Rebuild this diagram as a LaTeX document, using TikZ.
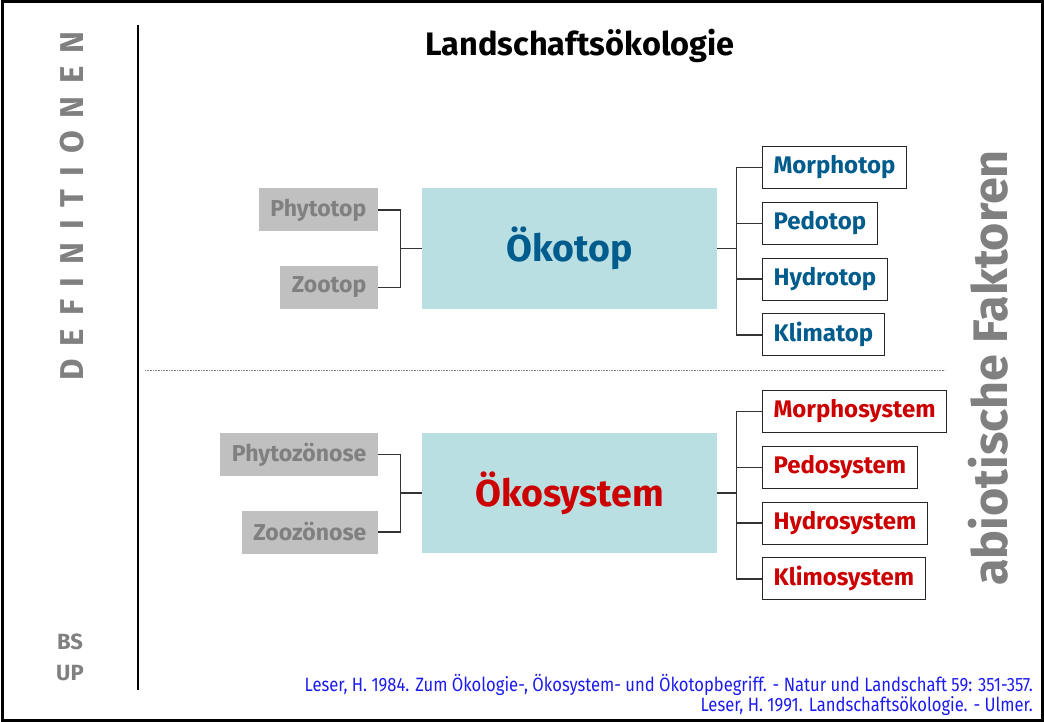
\documentclass[tikz,border=0pt]{standalone}
\usepackage{fontspec}
\setmainfont{Fira Sans}
\newfontfamily\reffont[FakeStretch=0.86]{Fira Sans}
\usepackage{tikz}
\usetikzlibrary{positioning}
\definecolor{inkGray}{HTML}{808080}
\definecolor{boxGray}{HTML}{C0C0C0}
\definecolor{topBg}{HTML}{B9DFE3}
\definecolor{topBlue}{HTML}{005C8C}
\definecolor{sysRed}{HTML}{CC0000}
\definecolor{refBlue}{HTML}{1C1CF0}
\definecolor{wire}{HTML}{333333}

\begin{document}
\begin{tikzpicture}[x=1pt,y=-1pt,
  core/.style={fill=topBg,minimum width=295pt,minimum height=120pt,inner sep=0pt,
               font=\fontsize{37.5}{42}\selectfont\bfseries},
  bio/.style={fill=boxGray,text=inkGray,minimum height=43pt,inner xsep=11.5pt,inner ysep=0pt,
              anchor=east,font=\fontsize{23}{26}\selectfont\bfseries},
  abio/.style={draw=black!85,fill=white,line width=1.1pt,minimum height=42pt,
               inner xsep=11pt,inner ysep=0pt,anchor=west,
               font=\fontsize{24}{27}\selectfont\bfseries},
  conn/.style={draw=wire,line width=1.3pt},
  side/.style={text=inkGray,rotate=90,inner sep=0pt}]
  \useasboundingbox (0,0) rectangle (1044,722);
  \draw[line width=3pt] (2,2) rectangle (1042,720);

  % frame texts
  \node[side,font=\fontsize{33}{36}\selectfont\bfseries\addfontfeature{LetterSpace=39}]
       (defs) at (72,206) {DEFINITIONEN};
  \node[text=inkGray,align=center,inner sep=0pt,font=\fontsize{22}{31}\selectfont\bfseries]
       (bsup) at (70,657) {BS\\UP};
  \coordinate (septop) at (138,25);
  \coordinate (sepbot) at (138,690);
  \draw[line width=1.2pt] (septop) -- (sepbot);
  \node[font=\fontsize{32.5}{36}\selectfont\bfseries] (title) at (580,46) {Landschaftsökologie};
  \node[side,font=\fontsize{48.5}{52}\selectfont\bfseries] (abiot) at (988,368) {abiotische Faktoren};
  \coordinate (dotl) at (145,370);
  \coordinate (dotr) at (945,370);
  \draw[inkGray,line width=0.7pt,dash pattern=on 0.8pt off 0.8pt] (dotl) -- (dotr);

  % Oekotop
  \node[core,text=topBlue] (okotop) at (569.5,248.5) {Ökotop};
  \node[bio] (phyto) at (378,210) {Phytotop};
  \node[bio] (zoo) at (378,287.5) {Zootop};
  \node[abio,text=topBlue] (morpho) at (762,167.5) {Morphotop};
  \node[abio,text=topBlue,below=12.7pt of morpho.south west,anchor=north west] (pedo) {Pedotop};
  \node[abio,text=topBlue,below=12.7pt of pedo.south west,anchor=north west] (hydro) {Hydrotop};
  \node[abio,text=topBlue,below=12.7pt of hydro.south west,anchor=north west] (klima) {Klimatop};

  % Oekosystem
  \node[core,text=sysRed] (okosys) at (569.5,493) {Ökosystem};
  \node[bio] (phytoz) at (378,454.5) {Phytozönose};
  \node[bio] (zooz) at (378,532) {Zoozönose};
  \node[abio,text=sysRed] (morphos) at (762,411.5) {Morphosystem};
  \node[abio,text=sysRed,below=12.7pt of morphos.south west,anchor=north west] (pedos) {Pedosystem};
  \node[abio,text=sysRed,below=12.7pt of pedos.south west,anchor=north west] (hydros) {Hydrosystem};
  \node[abio,text=sysRed,below=12.7pt of hydros.south west,anchor=north west] (klimos) {Klimosystem};

  % connectors
  \coordinate (jl1) at ([xshift=-21pt]okotop.west);
  \coordinate (jr1) at ([xshift=19pt]okotop.east);
  \coordinate (jl2) at ([xshift=-21pt]okosys.west);
  \coordinate (jr2) at ([xshift=19pt]okosys.east);
  \draw[conn] (phyto.east) -| (jl1) |- (zoo.east);
  \draw[conn] (jl1) -- (okotop.west);
  \draw[conn] (okotop.east) -- (jr1);
  \draw[conn] (morpho.west -| jr1) -- (klima.west -| jr1);
  \foreach \n in {morpho,pedo,hydro,klima}
    \draw[conn] (\n.west -| jr1) -- (\n.west);
  \draw[conn] (phytoz.east) -| (jl2) |- (zooz.east);
  \draw[conn] (jl2) -- (okosys.west);
  \draw[conn] (okosys.east) -- (jr2);
  \draw[conn] (morphos.west -| jr2) -- (klimos.west -| jr2);
  \foreach \n in {morphos,pedos,hydros,klimos}
    \draw[conn] (\n.west -| jr2) -- (\n.west);

  % sources
  \node[anchor=south east,align=right,text=refBlue,inner sep=0pt,
        font=\reffont\fontsize{19.3}{20}\selectfont] (refs) at (1033,716)
       {Leser, H. 1984. Zum Ökologie-, Ökosystem- und Ökotopbegriff. - Natur und Landschaft 59: 351-357.\\
        Leser, H. 1991. Landschaftsökologie. - Ulmer.};
\end{tikzpicture}
\end{document}
